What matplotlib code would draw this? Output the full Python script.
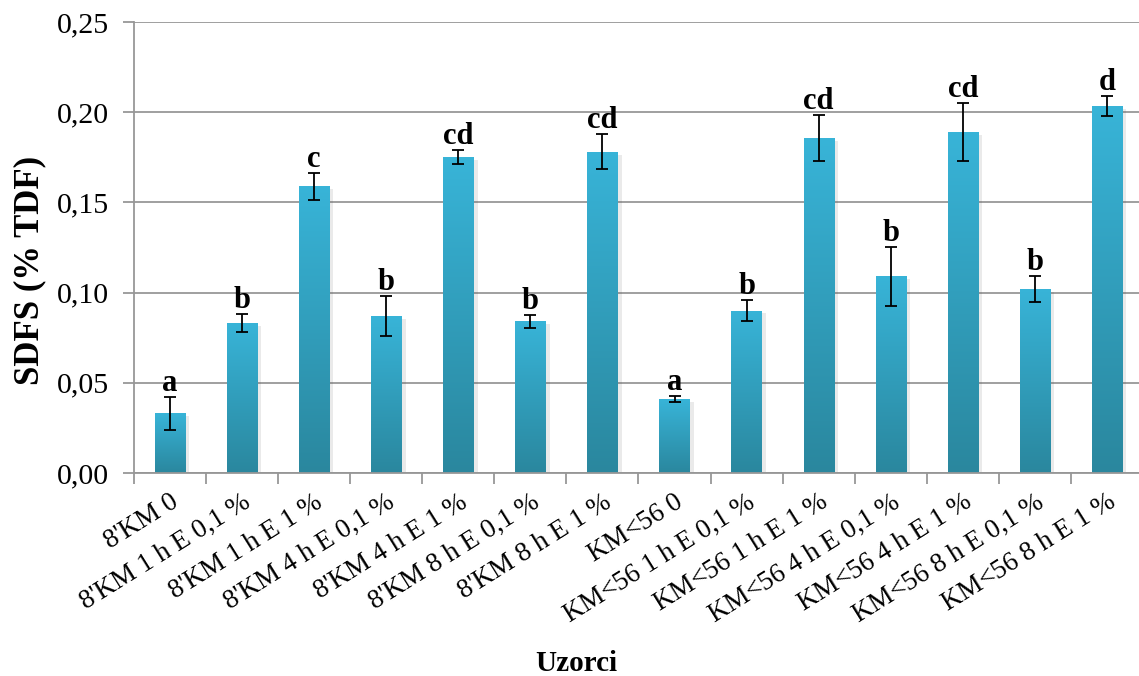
import numpy as np
import matplotlib
matplotlib.use("Agg")
import matplotlib.pyplot as plt
import matplotlib.patheffects as pe
from matplotlib.colors import LinearSegmentedColormap
from matplotlib.ticker import MultipleLocator, FuncFormatter
from matplotlib.transforms import ScaledTranslation

# sample names (x axis)
samples = ["8'KM 0", "8'KM 1 h E 0,1 %", "8'KM 1 h E 1 %", "8'KM 4 h E 0,1 %",
           "8'KM 4 h E 1 %", "8'KM 8 h E 0,1 %", "8'KM 8 h E 1 %", "KM<56 0",
           "KM<56 1 h E 0,1 %", "KM<56 1 h E 1 %", "KM<56 4 h E 0,1 %",
           "KM<56 4 h E 1 %", "KM<56 8 h E 0,1 %", "KM<56 8 h E 1 %"]

# SDFS values and standard deviations
sdfs = [0.033, 0.083, 0.159, 0.087, 0.175, 0.084, 0.178,
        0.041, 0.090, 0.1855, 0.109, 0.189, 0.102, 0.2035]
sd = [0.009, 0.005, 0.0075, 0.011, 0.004, 0.0036, 0.0097,
      0.0017, 0.006, 0.0128, 0.0163, 0.016, 0.007, 0.0054]

# significance letters
letters = ["a", "b", "c", "b", "cd", "b", "cd", "a", "b", "cd", "b", "cd", "b", "d"]

plt.rcParams['font.family'] = ['Liberation Serif', 'DejaVu Serif']

fig = plt.figure(figsize=(11.39, 6.76), dpi=100)
ax = fig.add_axes([0.1176, 0.3003, 0.8859, 0.6672])

x = np.arange(len(samples))
bars = ax.bar(x, sdfs, width=0.42, color='#33A6C8', zorder=2,
              path_effects=[pe.SimplePatchShadow(offset=(3, -2), alpha=0.12, shadow_rgbFace='#555555'),
                            pe.Normal()])

# vertical gradient inside every bar, light on top, darker at the bottom
cmap = LinearSegmentedColormap.from_list('bar', ['#2A879E', '#38B4D8'])
grad = np.linspace(0, 1, 256).reshape(-1, 1)
for b in bars:
    im = ax.imshow(grad, cmap=cmap, origin='lower', aspect='auto',
                   extent=[b.get_x(), b.get_x() + b.get_width(), 0, b.get_height()],
                   zorder=2.5)
    im.set_clip_path(b)

ax.errorbar(x, sdfs, yerr=sd, fmt='none', ecolor='black', elinewidth=1.3,
            capsize=4.2, capthick=1.3, zorder=3)

for xi, v, e, lab in zip(x, sdfs, sd, letters):
    ax.text(xi, v + e - 0.0005, lab, ha='center', va='bottom', fontsize=22,
            fontweight='bold', zorder=4)

ax.set_xlim(-0.5, len(samples) - 0.5)
ax.set_ylim(0, 0.25)
ax.yaxis.set_major_locator(MultipleLocator(0.05))
ax.yaxis.set_major_formatter(FuncFormatter(lambda v, p: f"{v:.2f}".replace('.', ',')))
ax.grid(axis='y', color='#979797', linewidth=1.3, zorder=0)
ax.set_axisbelow(True)

for s in ['top', 'right']:
    ax.spines[s].set_visible(False)
for s in ['left', 'bottom']:
    ax.spines[s].set_color('#979797')
    ax.spines[s].set_linewidth(1.3)

# x ticks at category boundaries, labels at category centres
ax.set_xticks(np.arange(-0.5, len(samples), 1.0))
ax.set_xticklabels([])
ax.set_xticks(x, minor=True)
ax.set_xticklabels(samples, minor=True, rotation=32, ha='right',
                   rotation_mode='anchor', fontsize=19.5)
shift = ScaledTranslation(-0.10, -0.08, fig.dpi_scale_trans)
for lbl in ax.get_xticklabels(minor=True):
    lbl.set_transform(lbl.get_transform() + shift)
ax.tick_params(axis='x', which='major', length=8, color='#979797', width=1.3)
ax.tick_params(axis='x', which='minor', length=0, pad=12)
ax.tick_params(axis='y', length=8, color='#979797', width=1.3, labelsize=21.5, pad=10)

ax.set_ylabel('SDFS (% TDF)', fontsize=25, fontweight='bold')
ax.yaxis.set_label_coords(-0.087, 0.45)
ax.set_xlabel('Uzorci', fontsize=21, fontweight='bold')
ax.xaxis.set_label_coords(0.438, -0.393)

fig.savefig('out.png', dpi=100)
